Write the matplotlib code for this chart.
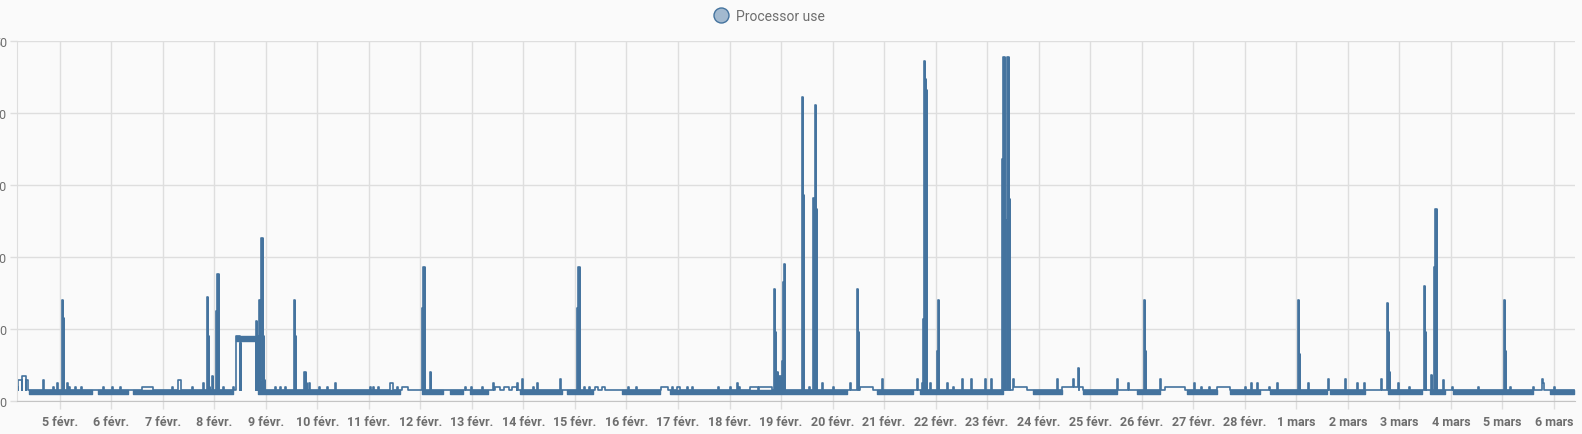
import numpy as np
import matplotlib.pyplot as plt
from matplotlib.lines import Line2D

plt.rcParams['font.family'] = ['Roboto', 'DejaVu Sans']

# time axis: days since 4 Feb 00:00
first_day, last_day = 0.171, 30.41
base_level = 1.5
low_level = 1.0

# longer stretches above the usual level (start, end, value)
raised_start = [0.171, 0.19, 0.268, 0.346, 2.59, 3.30, 4.416, 4.50, 4.52, 7.64,
                9.45, 9.62, 9.78, 11.39, 11.52, 12.68, 12.985, 14.40, 14.58,
                16.53, 19.52, 20.45, 22.45, 23.46]
raised_end = [0.19, 0.268, 0.346, 0.385, 2.81, 3.36, 4.50, 4.52, 4.804, 7.76,
              9.55, 9.72, 9.87, 11.45, 11.58, 12.81, 13.04, 14.55, 14.82,
              16.78, 19.77, 20.86, 22.84, 23.71]
raised_val = [2.0, 3.0, 3.5, 3.0, 2.0, 3.0, 9.0, 8.0, 8.8, 2.0,
              2.0, 2.0, 2.0, 2.0, 2.0, 2.0, 2.0, 2.0, 2.0,
              2.0, 2.0, 2.0, 2.0, 2.0]

# short peaks: start day and the successive readings
spike_day = [0.676, 0.87, 0.948, 1.039, 1.135, 1.18, 1.297, 1.408, 1.84, 2.015,
             2.17, 3.18, 3.57, 3.787, 3.853, 3.95, 4.04, 4.175, 4.369, 4.804,
             4.854, 4.874, 5.18, 5.275, 5.37, 5.553, 5.747, 5.845, 6.03, 6.18,
             6.34, 7.02, 7.08, 7.18, 7.41, 7.54, 8.03, 8.186, 8.865, 8.99,
             9.19, 9.41, 9.87, 9.966, 10.18, 10.256, 10.71, 11.033, 11.175, 11.28,
             12.03, 12.18, 12.876, 13.17, 13.28, 13.78, 14.01, 14.14, 14.19, 14.862,
             15.40, 15.535, 15.624, 15.787, 16.01, 16.337, 16.467, 16.95, 17.64, 17.73,
             17.76, 17.89, 18.025, 18.23, 18.34, 18.505, 18.685, 18.96, 19.07, 19.29,
             19.37, 19.50, 20.35, 20.67, 20.77, 21.52, 21.74, 22.04, 22.35, 23.02,
             23.16, 23.31, 24.00, 24.13, 24.23, 24.47, 24.62, 25.04, 25.23, 25.62,
             25.94, 26.17, 26.32, 26.64, 26.764, 26.98, 27.18, 27.48, 27.62, 27.68,
             27.84, 28.02, 28.53, 29.03, 29.14, 29.60, 29.77, 29.998]
spike_vals = [[3.0], [2.0], [2.5], [14.0, 11.5], [2.5], [2.0], [2.0], [2.0], [2.0], [2.0],
              [2.0], [2.0], [2.0], [2.5], [14.5, 9.0, 2.0], [3.5], [12.5, 17.6, 17.6], [2.0], [2.0], [11.1, 9.0],
              [2.0], [14.0, 3.0, 22.6, 22.6, 9.1, 3.0], [2.0], [2.0], [2.0], [14.0, 9.0], [4.0, 4.0, 2.5], [2.5], [2.0], [2.0],
              [2.5], [2.0], [2.0], [2.0], [2.5, 2.5, 2.5], [2.0], [13.0, 18.6, 18.6], [4.0], [2.0], [2.0],
              [2.0], [2.5], [2.5], [3.1], [2.0], [2.5], [3.1], [13.0, 18.6, 18.6], [2.0], [2.0],
              [2.0], [2.0], [2.0], [2.0], [2.0], [2.0], [2.0], [2.5], [2.0],
              [15.6, 9.6, 4.1, 4.1, 3.5, 3.5, 3.5, 3.5, 5.6, 16.6, 19.0],
              [42.2, 28.6], [2.0], [28.2, 28.2, 41.1, 26.7], [2.6], [2.0], [2.6], [15.6, 9.6], [3.1], [3.1], [2.5],
              [11.4, 47.2, 44.7, 43.2], [2.6], [7.0, 14.1], [2.6], [2.0], [3.1], [3.1], [3.1], [3.1],
              [33.6, 47.7, 47.7], [25.2, 47.7, 47.7, 28.0],
              [3.1], [3.1], [3.1], [4.6], [3.1], [2.5], [14.1, 7.0], [3.1], [2.6],
              [2.0], [2.0], [2.0], [2.5], [2.5], [2.0], [2.5], [14.1, 6.6], [2.5], [3.1],
              [3.1], [2.5], [2.5], [3.1], [13.6, 9.6, 4.0], [2.5], [2.0], [16.0, 9.6], [3.6], [18.6, 26.6, 26.6],
              [3.0], [2.0], [2.0], [14.1, 7.0], [2.0], [2.0], [3.1, 2.5], [2.0]]

# periods where the reading flickers between 1.0 and 1.5
band_start = [0.404, 1.743, 2.422, 4.848, 8.031, 8.574, 8.962, 9.933, 10.845, 11.912,
              12.844, 16.86, 17.69, 19.89, 20.86, 21.91, 22.88, 23.71, 24.49, 25.65,
              26.78, 27.59, 28.04, 29.92]
band_end = [1.627, 2.325, 4.369, 7.604, 8.438, 8.826, 9.312, 10.748, 11.349, 12.650,
            16.279, 17.56, 19.31, 20.45, 21.52, 22.35, 23.46, 24.29, 25.59, 26.33,
            27.44, 27.88, 29.59, 30.39]

# flicker on the 8 Feb plateau
plateau_start, plateau_end = 4.416, 4.804
plateau_low, plateau_high = 8.4, 9.1

day_ticks = list(range(1, 31))
day_labels = ['5 févr.', '6 févr.', '7 févr.', '8 févr.', '9 févr.', '10 févr.',
              '11 févr.', '12 févr.', '13 févr.', '14 févr.', '15 févr.', '16 févr.',
              '17 févr.', '18 févr.', '19 févr.', '20 févr.', '21 févr.', '22 févr.',
              '23 févr.', '24 févr.', '25 févr.', '26 févr.', '27 févr.', '28 févr.',
              '1 mars', '2 mars', '3 mars', '4 mars', '5 mars', '6 mars']
y_ticks = [0, 10, 20, 30, 40, 50]

line_color = '#44739e'
bg = '#fafafa'
grid_color = '#dedede'
text_color = '#6e6e6e'


def level_at(t):
    for s, e, v in zip(raised_start, raised_end, raised_val):
        if s <= t < e:
            return v
    return base_level


# build the step series
step = 0.02
events = [(first_day, base_level)]
for s, e, v in zip(raised_start, raised_end, raised_val):
    events.append((s, v))
    events.append((e, base_level))
for d, vals in zip(spike_day, spike_vals):
    for i, v in enumerate(vals):
        events.append((d + i * step, v))
    end = d + len(vals) * step
    events.append((end, level_at(end)))
events.sort(key=lambda ev: ev[0])
events.append((band_end[-1], base_level))
x = np.array([ev[0] for ev in events])
y = np.array([ev[1] for ev in events])

fig = plt.figure(figsize=(15.82, 4.35), dpi=100, facecolor=bg)
ax = fig.add_axes([17 / 1582, 1 - 402.3 / 435, 1558 / 1582, 360.6 / 435])
ax.set_facecolor(bg)

for s, e in zip(band_start, band_end):
    ax.fill_between([s, e], low_level, base_level, color=line_color, lw=1.0)
ax.fill_between([plateau_start, plateau_end], plateau_low, plateau_high,
                color=line_color, lw=1.0)

# dense samples make each peak look solid
for d, vals in zip(spike_day, spike_vals):
    if max(vals) < 3.5:
        continue
    xs = d + step * np.arange(len(vals) + 1)
    ys = np.array(vals + [vals[-1]])
    ax.fill_between(xs, base_level, ys, step='post', color=line_color, lw=0.6)

ax.plot(x, y, drawstyle='steps-post', color=line_color, lw=1.2, label='Processor use')

ax.set_xlim(first_day, last_day)
ax.set_ylim(0, 50)
ax.set_xticks(day_ticks)
ax.set_xticklabels(day_labels)
ax.set_yticks(y_ticks)
ax.grid(True, color=grid_color, lw=1.0)
ax.set_axisbelow(True)

for side in ['top', 'right']:
    ax.spines[side].set_visible(False)
ax.spines['left'].set_color(grid_color)
ax.spines['bottom'].set_color('#c4c4c4')
ax.tick_params(axis='x', length=5.8, width=1.0, color=grid_color, pad=4,
               labelsize=9, labelcolor=text_color)
ax.tick_params(axis='y', length=5.0, width=1.0, color=grid_color, pad=2.4,
               labelsize=9, labelcolor=text_color)
for lbl in ax.get_xticklabels():
    lbl.set_fontweight('bold')

handle = Line2D([], [], ls='none', marker='o', markersize=10.8,
                markerfacecolor='#a2b9cf', markeredgecolor=line_color, markeredgewidth=1.0)
ax.legend([handle], ['Processor use'], loc='center left',
          bbox_to_anchor=(707 / 1582, 1 - 16.7 / 435), bbox_transform=fig.transFigure,
          frameon=False, borderpad=0, handlelength=1.0, handletextpad=0.58,
          fontsize=10, labelcolor=text_color)

fig.savefig('out.png', dpi=100, facecolor=bg)
